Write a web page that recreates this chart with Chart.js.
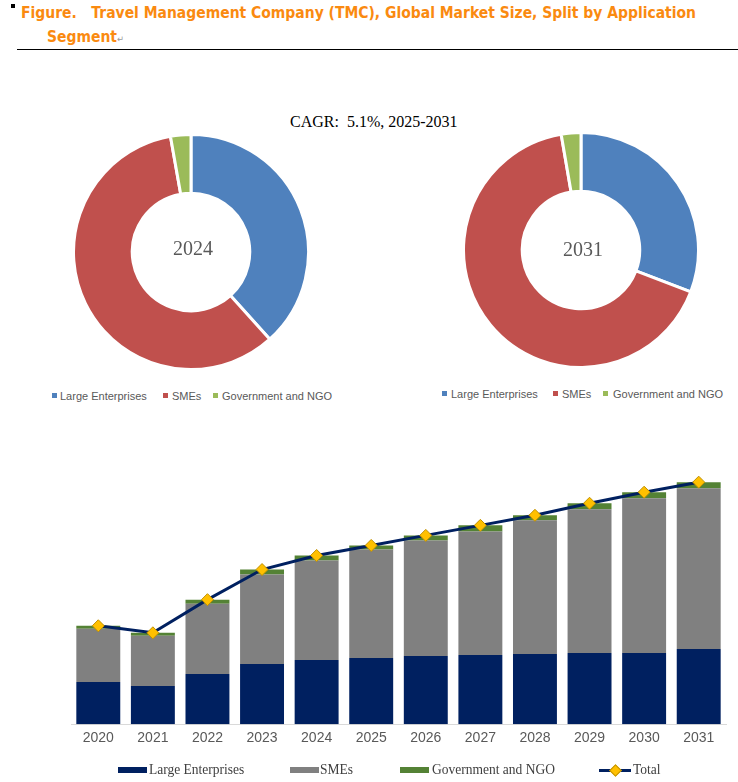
<!DOCTYPE html>
<html>
<head>
<meta charset="utf-8">
<script src="https://cdn.jsdelivr.net/npm/chart.js@4.4.1/dist/chart.umd.min.js"></script>
<style>
  body { margin: 0; background: #fff; }
  #page { position: relative; width: 738px; height: 782px; overflow: hidden; font-family: "Liberation Sans", Arial, sans-serif; }
  #page > * { position: absolute; }
  #bullet { left: 11px; top: 4px; width: 4px; height: 4px; background: #000; }
  .title { left: 21px; font-family: "DejaVu Sans", sans-serif; font-weight: bold; font-size: 15px; line-height: 15px; color: #FA8A10; white-space: nowrap; transform-origin: left top; }
  #t1 { top: 6px; }
  #t2 { top: 30px; left: 47px; }
  .pm { color: #999; font-weight: normal; font-size: 9px; }
  #rule { left: 17px; top: 49px; width: 721px; height: 1px; background: #000; }
  #cagr { left: 290px; top: 114px; font-family: "Liberation Serif", "Times New Roman", serif; font-size: 16px; line-height: 16px; color: #000; white-space: nowrap; }
  .center { font-family: "Liberation Serif", "Times New Roman", serif; font-size: 20px; line-height: 20px; color: #595959; width: 80px; text-align: center; }
  .dleg { font-size: 11px; line-height: 11px; color: #595959; white-space: nowrap; }
  .dsq { width: 5px; height: 5px; }
  .bleg { font-family: "Liberation Serif", "Times New Roman", serif; font-size: 15px; line-height: 15px; color: #404040; white-space: nowrap; top: 762px; transform: scaleX(0.9); transform-origin: left top; }
  .bbox { top: 767px; width: 29px; height: 6px; }
</style>
</head>
<body>
<div id="page">
  <div id="bullet"></div>
  <div class="title" id="t1">Figure.&nbsp;&nbsp; Travel Management Company (TMC), Global Market Size, Split by Application</div>
  <div class="title" id="t2">Segment<span class="pm">&#8629;</span></div>
  <div id="rule"></div>

  <div id="cagr">CAGR:&nbsp;&nbsp;5.1%, 2025-2031</div>

  <canvas id="donut2024" width="238" height="238" style="left:72px;top:133px"></canvas>
  <canvas id="donut2031" width="238" height="238" style="left:462px;top:131px"></canvas>
  <div class="center" id="c2024" style="left:153px;top:238px"></div>
  <div class="center" id="c2031" style="left:543px;top:239px"></div>

  <div class="dsq" style="left:52px;top:393px;background:#4F81BD"></div>
  <div class="dleg" style="left:60px;top:391px">Large Enterprises</div>
  <div class="dsq" style="left:163px;top:393px;background:#C0504D"></div>
  <div class="dleg" style="left:172px;top:391px">SMEs</div>
  <div class="dsq" style="left:213px;top:393px;background:#9BBB59"></div>
  <div class="dleg" style="left:222px;top:391px">Government and NGO</div>

  <div class="dsq" style="left:442px;top:391px;background:#4F81BD"></div>
  <div class="dleg" style="left:451px;top:389px">Large Enterprises</div>
  <div class="dsq" style="left:553px;top:391px;background:#C0504D"></div>
  <div class="dleg" style="left:562px;top:389px">SMEs</div>
  <div class="dsq" style="left:603px;top:391px;background:#9BBB59"></div>
  <div class="dleg" style="left:613px;top:389px">Government and NGO</div>

  <canvas id="bars" width="738" height="345" style="left:0;top:420px"></canvas>

  <div class="bbox" style="left:118px;background:#002060"></div>
  <div class="bleg" style="left:149px">Large Enterprises</div>
  <div class="bbox" style="left:290px;background:#808080"></div>
  <div class="bleg" style="left:320px">SMEs</div>
  <div class="bbox" style="left:400px;background:#548235"></div>
  <div class="bleg" style="left:432px">Government and NGO</div>
  <div style="left:599px;top:769px;width:32px;height:3px;background:#002060"></div>
  <div style="left:611px;top:766px;width:7px;height:7px;background:#FFC000;border:1px solid #BF9000;transform:rotate(45deg)"></div>
  <div class="bleg" style="left:633px">Total</div>
</div>

<script>
// segment names, shared by the donuts and the bars
const segments = ['Large Enterprises', 'SMEs', 'Government and NGO'];

// donut shares (%)
const share2024 = [38.3, 58.9, 2.8];
const share2031 = [30.8, 66.5, 2.7];

// market size by year
const years = ['2020', '2021', '2022', '2023', '2024', '2025', '2026', '2027', '2028', '2029', '2030', '2031'];
const largeEnterprises = [42, 38, 50, 60, 64, 66, 68, 69, 70, 71, 71, 75];
const smes = [53, 50, 70, 89, 99, 108, 115, 123, 133, 143, 154, 160];
const govNgo = [3, 3, 4, 5, 5, 4, 5, 6, 5, 6, 6, 6];
const totals = [98, 91, 124, 154, 168, 178, 188, 198, 208, 220, 231, 241];

const donutColors = ['#4F81BD', '#C0504D', '#9BBB59'];

// squeeze the title to the width it has in the figure
const t1 = document.getElementById('t1');
t1.style.transform = 'scaleX(' + (675 / t1.getBoundingClientRect().width) + ')';
document.getElementById('t2').style.transform = t1.style.transform;

function drawDonut(id, label, values) {
  document.getElementById('c' + label).textContent = label;
  new Chart(document.getElementById(id), {
    type: 'doughnut',
    data: {
      labels: segments,
      datasets: [{
        data: values,
        backgroundColor: donutColors,
        borderColor: '#ffffff',
        borderWidth: 3
      }]
    },
    options: {
      responsive: false,
      animation: false,
      cutout: '50%',
      layout: { padding: 0 },
      plugins: { legend: { display: false }, tooltip: { enabled: false } }
    }
  });
}

drawDonut('donut2024', '2024', share2024);
drawDonut('donut2031', '2031', share2031);

new Chart(document.getElementById('bars'), {
  type: 'bar',
  data: {
    labels: years,
    datasets: [
      {
        type: 'line',
        label: 'Total',
        data: totals,
        stack: 'total',
        order: 0,
        borderColor: '#002060',
        borderWidth: 3,
        tension: 0,
        pointStyle: 'rectRot',
        pointRadius: 6,
        pointBackgroundColor: '#FFC000',
        pointBorderColor: '#BF9000',
        pointBorderWidth: 1
      },
      { label: segments[0], data: largeEnterprises, backgroundColor: '#002060', order: 1 },
      { label: segments[1], data: smes, backgroundColor: '#808080', order: 1 },
      { label: segments[2], data: govNgo, backgroundColor: '#548235', order: 1 }
    ]
  },
  options: {
    responsive: false,
    animation: false,
    layout: { padding: { left: 71, right: 12, top: 23, bottom: 12 } },
    datasets: { bar: { barPercentage: 0.805, categoryPercentage: 1 } },
    scales: {
      x: {
        stacked: true,
        grid: { display: false, drawTicks: false },
        border: { display: true, color: '#d9d9d9', width: 1 },
        ticks: {
          color: '#595959',
          padding: 6,
          font: { family: '"Liberation Sans", Arial, sans-serif', size: 14 }
        }
      },
      y: { stacked: true, display: false, min: 0, max: 280 }
    },
    plugins: { legend: { display: false }, tooltip: { enabled: false } }
  }
});
</script>
</body>
</html>
